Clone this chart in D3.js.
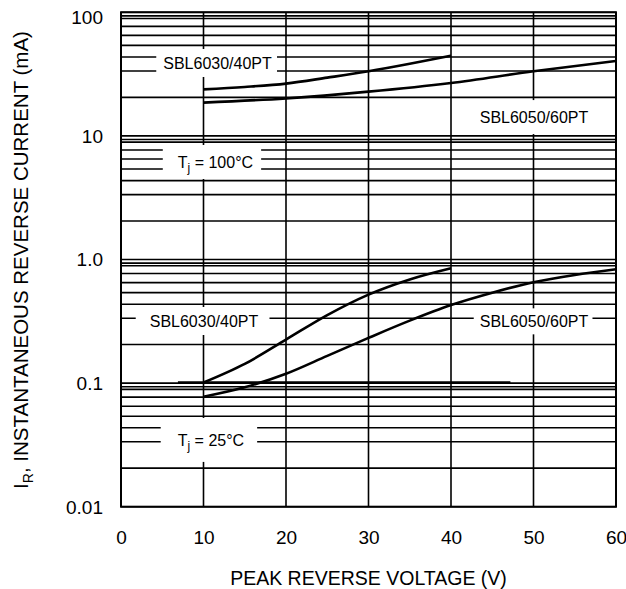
<!DOCTYPE html>
<html>
<head>
<meta charset="utf-8">
<script src="https://cdn.jsdelivr.net/npm/d3@7"></script>
<style>
  html, body { margin: 0; padding: 0; background: #fff; }
  svg { display: block; font-family: "Liberation Sans", Arial, sans-serif; }
</style>
</head>
<body>
<svg id="chart" width="626" height="589"></svg>
<script>
// ---- data ----
const voltageTicks = [0, 10, 20, 30, 40, 50, 60];
const currentTicks = [0.01, 0.1, 1, 10, 100];
const currentTickLabels = ["0.01", "0.1", "1.0", "10", "100"];
const minorMultipliers = [2.05, 3.35, 4.35, 5.4, 6.5, 7.7, 8.9, 9.35];

// Tj = 100°C
const hot3040V = [10, 15, 20, 25, 30, 35, 40];
const hot3040I = [23.8, 24.9, 26.5, 29.6, 33.3, 38.3, 44.6];
const hot5060V = [10, 20, 30, 40, 50, 60];
const hot5060I = [18.6, 20.1, 22.8, 26.8, 33.3, 40.4];
// Tj = 25°C
const cold3040V = [10, 15, 20, 25, 30, 35, 40];
const cold3040I = [0.101, 0.143, 0.225, 0.355, 0.52, 0.69, 0.85];
const cold5060V = [10, 15, 20, 25, 30, 35, 40, 45, 50, 55, 60];
const cold5060I = [0.0776, 0.0925, 0.119, 0.166, 0.232, 0.32, 0.428, 0.539, 0.655, 0.75, 0.833];

const seriesList = [
  [hot3040V, hot3040I],
  [hot5060V, hot5060I],
  [cold3040V, cold3040I],
  [cold5060V, cold5060I]
];

// ---- layout ----
const svg = d3.select("#chart");
const x = d3.scaleLinear().domain([0, 60]).range([121, 616]);
const y = d3.scaleLog().domain([0.01, 100]).range([506.7, 12.3]);

// horizontal grid values
const gridValues = [];
currentTicks.forEach(d => {
  gridValues.push(d);
  if (d < 100) minorMultipliers.forEach(m => gridValues.push(d * m));
});

const grid = svg.append("g");
grid.selectAll("line.h").data(gridValues).join("line")
  .attr("x1", x(0)).attr("x2", x(60))
  .attr("y1", d => y(d)).attr("y2", d => y(d))
  .attr("stroke", "#000").attr("stroke-width", 1.6);
grid.selectAll("line.v").data(voltageTicks.slice(1, -1)).join("line")
  .attr("x1", d => x(d)).attr("x2", d => x(d))
  .attr("y1", y(100)).attr("y2", y(0.01))
  .attr("stroke", "#000").attr("stroke-width", 1.6);
// the darker duplicate segment at 0.1 seen in the original
grid.append("line")
  .attr("x1", x(6.9)).attr("x2", x(47.2))
  .attr("y1", y(0.1) - 1).attr("y2", y(0.1) - 1)
  .attr("stroke", "#000").attr("stroke-width", 1.6);

// ---- annotations (white boxes break the grid) ----
const annotations = [
  { text: "SBL6030/40PT", v: 11.7, i: 38.9, padL: 7, padR: 5, halfH: 14 },
  { text: "SBL6050/60PT", v: 50.06, i: 14.2, padL: 6, padR: 4, halfH: 17 },
  { tj: "100°C", v: 11.45, i: 6.15, padL: 15, padR: 8, halfH: 17 },
  { text: "SBL6030/40PT", v: 10.06, i: 0.318, padL: 14, padR: 11, halfH: 14 },
  { text: "SBL6050/60PT", v: 50.06, i: 0.316, padL: 6, padR: 4, halfH: 13 },
  { tj: "25°C", v: 10.9, i: 0.0347, padL: 17, padR: 13, halfH: 22 }
];
const boxLayer = svg.append("g");
const lineLayer = svg.append("g");
const textLayer = svg.append("g");

annotations.forEach(a => {
  const cx = x(a.v), cy = y(a.i);
  const t = textLayer.append("text")
    .attr("x", cx).attr("y", cy + 5.8)
    .attr("text-anchor", "middle")
    .attr("font-size", 16).attr("fill", "#000");
  if (a.tj) {
    t.append("tspan").text("T");
    t.append("tspan").attr("font-size", 12).attr("dy", 4).text("j");
    t.append("tspan").attr("dy", -4).text(" = " + a.tj);
  } else {
    t.text(a.text);
  }
  const bb = t.node().getBBox();
  boxLayer.append("rect")
    .attr("x", bb.x - a.padL).attr("width", bb.width + a.padL + a.padR)
    .attr("y", cy - a.halfH).attr("height", a.halfH * 2)
    .attr("fill", "#fff");
});

// ---- curves ----
const line = d3.line()
  .x(d => x(d[0])).y(d => y(d[1]))
  .curve(d3.curveMonotoneX);
seriesList.forEach(([vs, is]) => {
  lineLayer.append("path")
    .attr("d", line(vs.map((v, k) => [v, is[k]])))
    .attr("fill", "none").attr("stroke", "#000")
    .attr("stroke-width", 2.6).attr("stroke-linecap", "butt");
});

// ---- frame ----
svg.append("rect")
  .attr("x", x(0)).attr("y", y(100))
  .attr("width", x(60) - x(0)).attr("height", y(0.01) - y(100))
  .attr("fill", "none").attr("stroke", "#000").attr("stroke-width", 2);

// ---- axes (labels only, no tick marks) ----
const xAxis = d3.axisBottom(x).tickValues(voltageTicks).tickSize(0).tickPadding(0)
  .tickFormat(d3.format("d"));
const gx = svg.append("g").attr("transform", `translate(0, ${y(0.01)})`).call(xAxis);
gx.select(".domain").remove();
gx.selectAll("text").attr("font-size", 19).attr("font-family", "Liberation Sans, Arial, sans-serif")
  .attr("fill", "#000").attr("dy", null).attr("y", 37);

const yAxis = d3.axisLeft(y).tickValues(currentTicks).tickSize(0).tickPadding(0)
  .tickFormat((d, k) => currentTickLabels[k]);
const gy = svg.append("g").attr("transform", `translate(103, 0)`).call(yAxis);
gy.select(".domain").remove();
gy.selectAll(".tick").attr("transform", d => `translate(0, ${Math.max(y(d), 17)})`);
gy.selectAll("text").attr("font-size", 19).attr("font-family", "Liberation Sans, Arial, sans-serif")
  .attr("fill", "#000").attr("x", 0).attr("dy", "0.36em");

// ---- axis titles ----
svg.append("text")
  .attr("x", (x(0) + x(60)) / 2).attr("y", 585)
  .attr("text-anchor", "middle").attr("font-size", 19.5).attr("fill", "#000")
  .text("PEAK REVERSE VOLTAGE (V)");

const yt = svg.append("text")
  .attr("transform", "translate(27.5, 260) rotate(-90)")
  .attr("text-anchor", "middle").attr("font-size", 20.5).attr("fill", "#000");
yt.append("tspan").text("I");
yt.append("tspan").attr("font-size", 14).attr("dy", 5).text("R");
yt.append("tspan").attr("dy", -5).text(", INSTANTANEOUS REVERSE CURRENT (mA)");
</script>
</body>
</html>
